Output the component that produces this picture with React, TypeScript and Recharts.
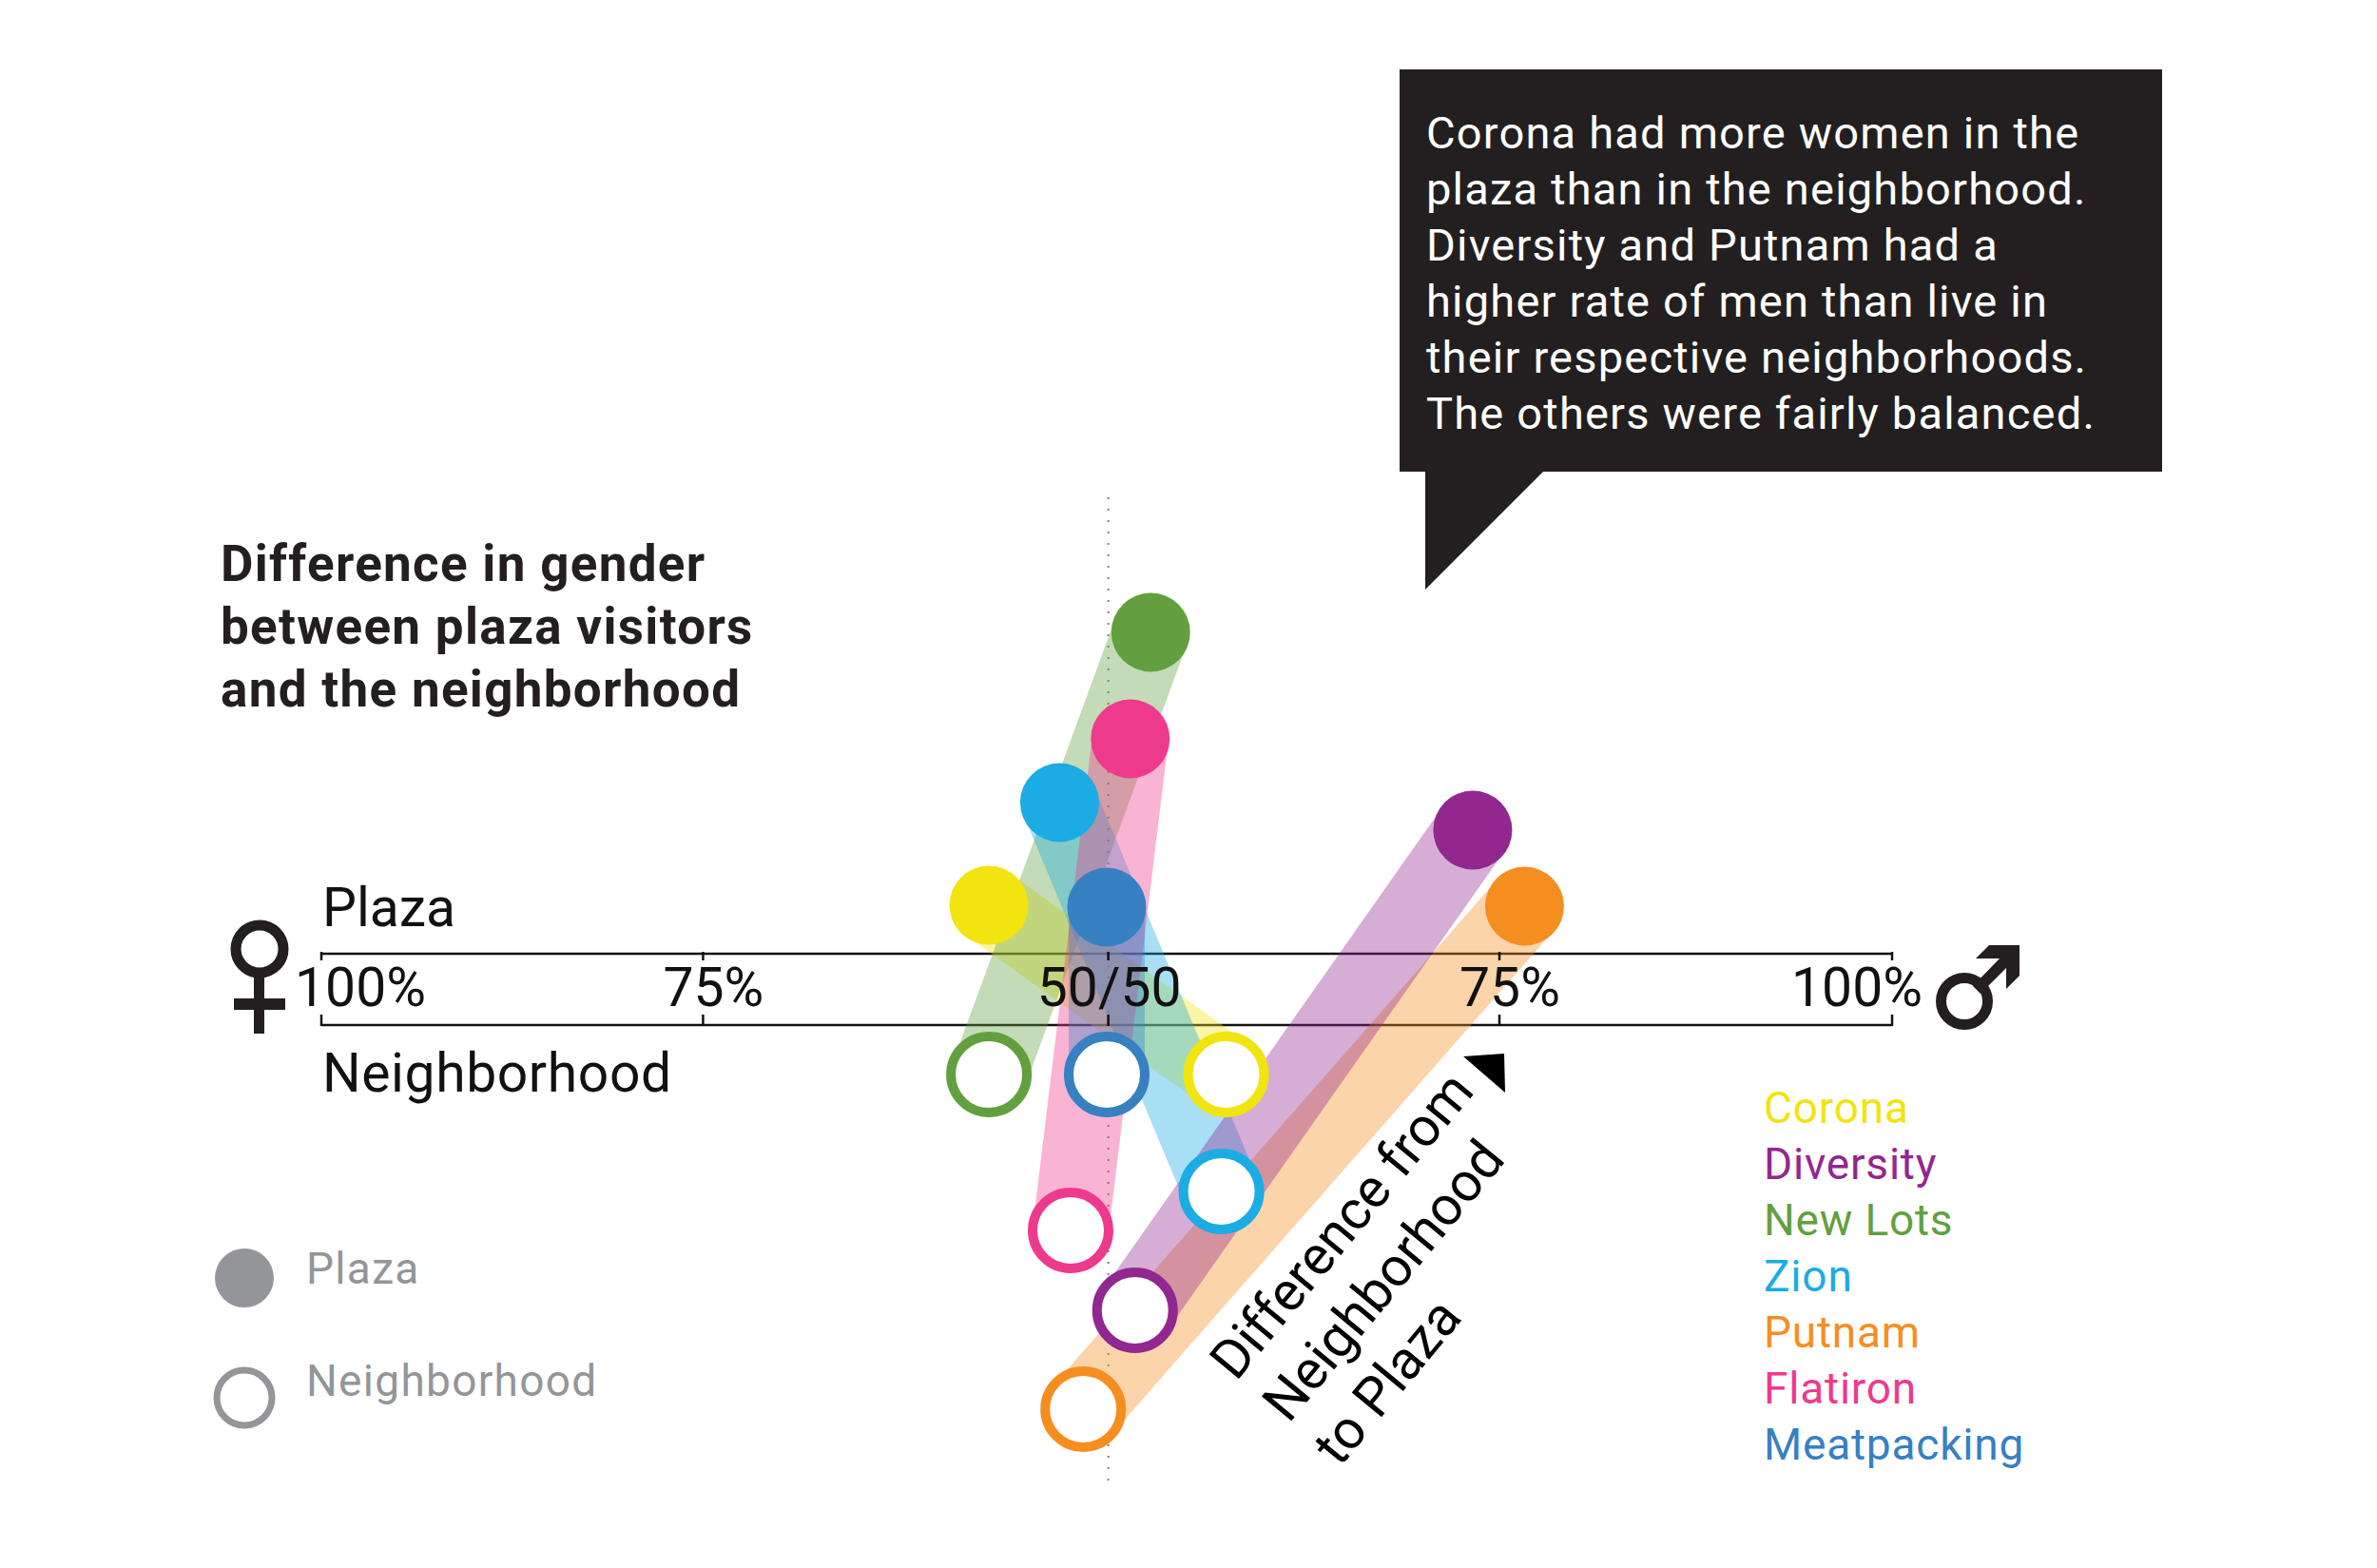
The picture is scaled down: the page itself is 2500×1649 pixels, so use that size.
import { ReferenceLine, Scatter, ScatterChart, XAxis, YAxis } from "recharts";

const W = 2500;
const H = 1649;
const FONT = "Roboto, sans-serif";

// x = percent along the men/women scale, y = height above the band's centre line
const NAMES = ["Corona", "Diversity", "New Lots", "Zion", "Putnam", "Flatiron", "Meatpacking"];
const COLORS = ["#f1e40f", "#92278f", "#62a03f", "#1bace4", "#f68e1f", "#ee3a8c", "#3780c2"];
const PLAZA_X = [42.5, 73.3, 52.8, 47.0, 76.6, 51.5, 50.0];
const PLAZA_Y = [88, 167, 375, 196, 87, 263, 86];
const HOOD_X = [57.6, 51.8, 42.5, 57.3, 48.5, 47.7, 50.0];
const HOOD_Y = [-90, -338, -90, -213, -442, -254, -90];
// stacking of the translucent connectors, bottom to top
const BAND_ORDER = [4, 0, 2, 3, 5, 1, 6];

const TICK_VALUES = [0, 24.3, 50.1, 75, 100];
const TICK_LABELS = ["100%", "75%", "50/50", "75%", "100%"];
const LABEL_SHIFT = [41, 11, 1, 11, -37];

const CALLOUT = [
  "Corona had more women in the",
  "plaza than in the neighborhood.",
  "Diversity and Putnam had a",
  "higher rate of men than live in",
  "their respective neighborhoods.",
  "The others were fairly balanced.",
];
const TITLE = ["Difference in gender", "between plaza visitors", "and the neighborhood"];

const INK = "#231f20";
const GREY = "#939598";

const AxisTick = ({ x, payload, index }: any) => (
  <g>
    <line x1={x} x2={x} y1={1001} y2={1010} stroke="#111" strokeWidth={2.5} />
    <line x1={x} x2={x} y1={1067} y2={1079} stroke="#111" strokeWidth={2.5} />
    <text x={x + LABEL_SHIFT[index]} y={1058} textAnchor="middle" fontSize={57} fill="#111" fontFamily={FONT}>
      {TICK_LABELS[TICK_VALUES.indexOf(payload.value)]}
    </text>
  </g>
);

export default function App() {
  return (
    <div style={{ position: "absolute", left: 0, top: 0, width: W, height: H, background: "#fff" }}>
      <ScatterChart width={W} height={H} margin={{ top: 0, right: 510, bottom: -1, left: 338 }}>
        <XAxis
          type="number"
          dataKey="x"
          domain={[0, 100]}
          ticks={TICK_VALUES}
          interval={0}
          height={1}
          axisLine={false}
          tickLine={false}
          tick={<AxisTick />}
        />
        <YAxis type="number" dataKey="y" domain={[-609, 1040]} hide />

        {/* dotted 50/50 guide, band edges */}
        <ReferenceLine
          segment={[{ x: 50.1, y: 517 }, { x: 50.1, y: -523 }]}
          stroke="#808285"
          strokeWidth={2}
          strokeDasharray="2 10"
        />
        <ReferenceLine y={37} stroke="#111" strokeWidth={2.5} />
        <ReferenceLine y={-38} stroke="#111" strokeWidth={2.5} />

        {/* translucent connectors first so every circle stays on top */}
        {BAND_ORDER.map((i) => (
          <Scatter
            key={NAMES[i]}
            data={[{ x: PLAZA_X[i], y: PLAZA_Y[i] }, { x: HOOD_X[i], y: HOOD_Y[i] }]}
            line={{ stroke: COLORS[i], strokeWidth: 80, strokeOpacity: 0.38 }}
            shape={() => null}
            isAnimationActive={false}
          />
        ))}
        {NAMES.map((name, i) => (
          <Scatter
            key={name + "-plaza"}
            data={[{ x: PLAZA_X[i], y: PLAZA_Y[i] }]}
            shape={(p: any) => <circle cx={p.cx} cy={p.cy} r={41.5} fill={COLORS[i]} />}
            isAnimationActive={false}
          />
        ))}
        {NAMES.map((name, i) => (
          <Scatter
            key={name + "-hood"}
            data={[{ x: HOOD_X[i], y: HOOD_Y[i] }]}
            shape={(p: any) => <circle cx={p.cx} cy={p.cy} r={40} fill="#fff" stroke={COLORS[i]} strokeWidth={10} />}
            isAnimationActive={false}
          />
        ))}

        {/* callout */}
        <path d="M1472 73H2274V496H1623L1499 620V496H1472Z" fill={INK} />
        {CALLOUT.map((t, i) => (
          <text key={t} x={1500} y={156 + i * 59} fontSize={47} letterSpacing={1.2} fill="#fff" fontFamily={FONT}>{t}</text>
        ))}

        {TITLE.map((t, i) => (
          <text key={t} x={232} y={611 + i * 66} fontSize={53} fontWeight={700} letterSpacing={1.3} fill={INK} fontFamily={FONT}>{t}</text>
        ))}

        <text x={339} y={974} fontSize={57} fill="#111" fontFamily={FONT}>Plaza</text>
        <text x={339} y={1148} fontSize={57} letterSpacing={0.6} fill="#111" fontFamily={FONT}>Neighborhood</text>

        {/* gender symbols */}
        <g fill={INK}>
          <circle cx={273} cy={998} r={25} fill="none" stroke={INK} strokeWidth={11} />
          <rect x={267} y={1026} width={11} height={61} />
          <rect x={246} y={1050} width={54} height={12} />
          <circle cx={2066} cy={1053} r={24.5} fill="none" stroke={INK} strokeWidth={11} />
          <path d="M2092 994H2124V1026L2110 1040V1018L2083 1045L2075 1037L2103 1008H2078Z" />
        </g>

        {/* series legend */}
        {NAMES.map((name, i) => (
          <text key={name} x={1855} y={1181 + i * 59} fontSize={46} letterSpacing={0.8} fill={COLORS[i]} fontFamily={FONT}>{name}</text>
        ))}

        {/* mark legend */}
        <circle cx={257} cy={1344} r={31} fill={GREY} />
        <circle cx={257} cy={1470} r={29} fill="#fff" stroke={GREY} strokeWidth={7} />
        <text x={322} y={1350} fontSize={46} letterSpacing={1.3} fill={GREY} fontFamily={FONT}>Plaza</text>
        <text x={322} y={1468} fontSize={46} letterSpacing={1.3} fill={GREY} fontFamily={FONT}>Neighborhood</text>

        {/* direction note */}
        <path d="M1539 1111L1582 1108L1583 1149Z" fill="#000" />
        <g fontSize={57} fill="#000" fontFamily={FONT} textAnchor="middle">
          <text transform="translate(1426 1301) rotate(-50.5)">Difference from</text>
          <text transform="translate(1470 1359) rotate(-50.5)">Neighborhood</text>
          <text transform="translate(1474 1465) rotate(-50.5)">to Plaza</text>
        </g>
      </ScatterChart>
    </div>
  );
}
